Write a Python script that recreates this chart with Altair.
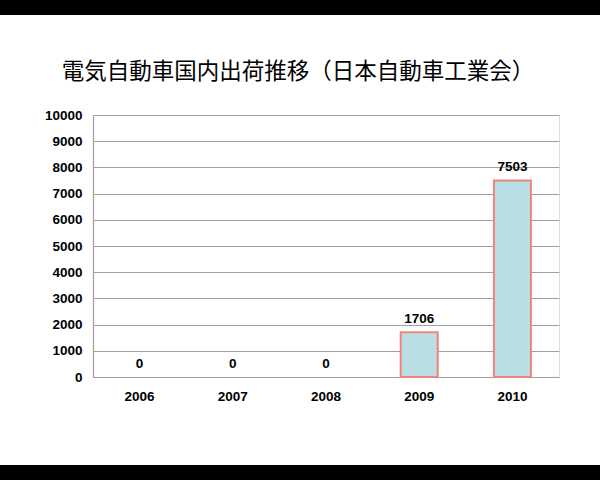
import altair as alt
import pandas as pd

years = ["2006", "2007", "2008", "2009", "2010"]
shipments = [0, 0, 0, 1706, 7503]
y_ticks = [0, 1000, 2000, 3000, 4000, 5000, 6000, 7000, 8000, 9000, 10000]
title_text = "電気自動車国内出荷推移（日本自動車工業会）"

df = pd.DataFrame({"year": years, "value": shipments})

font_num = "Liberation Sans"
grey = "#a0a0a0"
num_size = 13.5

x_enc = alt.X("year:N", sort=years, title=None,
              scale=alt.Scale(paddingInner=0, paddingOuter=0),
              axis=alt.Axis(labelAngle=0, labelFont=font_num, labelFontSize=num_size,
                            labelFontWeight="bold", labelColor="black",
                            labelPadding=12, ticks=False, domainColor=grey,
                            domainWidth=1.2, grid=False))
y_enc = alt.Y("value:Q", title=None,
              scale=alt.Scale(domain=[0, 10000], nice=False),
              axis=alt.Axis(values=y_ticks, format="d", labelOverlap=False,
                            labelFont=font_num, labelFontSize=num_size,
                            labelFontWeight="bold", labelColor="black",
                            labelPadding=11, ticks=False, domainColor=grey,
                            domainWidth=1.2, gridColor=grey, gridWidth=1.2))

base = alt.Chart(df)

bars = base.mark_bar(size=37, fill="#b9dfe5", stroke="#f2827c",
                     strokeWidth=2).encode(x=x_enc, y=y_enc).transform_filter(
    alt.datum.value > 0)

labels = base.mark_text(dy=-6, baseline="bottom", font=font_num, fontSize=num_size,
                        fontWeight="bold", color="black").encode(
    x=x_enc, y=y_enc, text="value:Q")

one = pd.DataFrame({"k": [0]})
top_band = alt.Chart(one).mark_rect(color="black").encode(
    x=alt.value(-93), x2=alt.value(507), y=alt.value(-115), y2=alt.value(-100))
bottom_band = alt.Chart(one).mark_rect(color="black").encode(
    x=alt.value(-93), x2=alt.value(507), y=alt.value(350), y2=alt.value(365))
title = alt.Chart(one).mark_text(font="Noto Sans CJK JP", fontSize=22.5,
                                 color="black", baseline="middle",
                                 align="center").encode(
    text=alt.value(title_text), x=alt.value(205), y=alt.value(-43))

chart = alt.layer(bars, labels, top_band, bottom_band, title).properties(
    width=466, height=262,
    padding={"left": 93, "top": 115, "right": 41, "bottom": 103},
    autosize=alt.AutoSizeParams(type="none"),
).configure_view(stroke=grey, strokeWidth=1.2).configure(background="white")

chart.save("out.html", embed_options={"renderer": "svg", "actions": False})
